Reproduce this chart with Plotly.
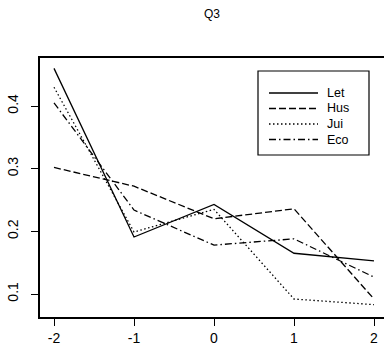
import plotly.graph_objects as go

# Response position on the x axis
positions = [-2, -1, 0, 1, 2]

# Proportions for each group
let_vals = [0.460, 0.191, 0.243, 0.165, 0.153]
hus_vals = [0.302, 0.272, 0.220, 0.236, 0.092]
jui_vals = [0.430, 0.199, 0.235, 0.092, 0.083]
eco_vals = [0.405, 0.234, 0.178, 0.188, 0.127]

series_names = ["Let", "Hus", "Jui", "Eco"]
series_vals = [let_vals, hus_vals, jui_vals, eco_vals]
dashes = ["solid", "7px,3px", "1.5px,2.5px", "7px,3px,1.5px,3px"]

x_ticks = [-2, -1, 0, 1, 2]
y_ticks = [0.1, 0.2, 0.3, 0.4]

FONT = "Liberation Sans, Arial, sans-serif"

fig = go.Figure()
for name, vals, dash in zip(series_names, series_vals, dashes):
    fig.add_trace(go.Scatter(
        x=positions, y=vals, mode="lines", name=name,
        line=dict(color="black", width=1.3, dash=dash),
        showlegend=False,
    ))

# Hand-drawn legend box in the upper right of the plot area
W, H = 384, 351
ml, mr, mt, mb = 40, 0, 58, 34
pw, ph = W - ml - mr, H - mt - mb

def px_x(p):
    return (p - ml) / pw

def px_y(p):
    return 1 - (p - mt) / ph

shapes = [dict(type="rect", xref="paper", yref="paper",
               x0=px_x(258), x1=px_x(369), y0=px_y(155), y1=px_y(71),
               line=dict(color="black", width=1.2), fillcolor="white")]
annotations = []
for i, (name, dash) in enumerate(zip(series_names, dashes)):
    yy = 93 + i * 15.5
    shapes.append(dict(type="line", xref="paper", yref="paper",
                       x0=px_x(269), x1=px_x(318), y0=px_y(yy), y1=px_y(yy),
                       line=dict(color="black", width=1.3, dash=dash)))
    annotations.append(dict(xref="paper", yref="paper", x=px_x(325), y=px_y(yy),
                            text=name, showarrow=False, xanchor="left",
                            yanchor="middle",
                            font=dict(family=FONT, size=12.5, color="black")))

fig.update_layout(
    width=W, height=H,
    margin=dict(l=ml, r=mr, t=mt, b=mb),
    paper_bgcolor="white", plot_bgcolor="white",
    title=dict(text="Q3", x=212 / W, xanchor="center", y=1 - 14 / H,
               yanchor="middle", font=dict(family=FONT, size=12, color="black")),
    shapes=shapes, annotations=annotations,
    font=dict(family=FONT, color="black"),
)
fig.update_xaxes(
    range=[-2.175, 2.125], tickvals=x_ticks, ticktext=[str(v) for v in x_ticks],
    ticks="outside", ticklen=7, tickwidth=1.2, tickcolor="black",
    showline=True, linecolor="black", linewidth=1.5, mirror=True,
    showgrid=False, zeroline=False, tickfont=dict(family=FONT, size=14),
    ticklabelstandoff=0,
)
fig.update_yaxes(
    range=[0.0633, 0.4766], tickvals=y_ticks, ticktext=[str(v) for v in y_ticks],
    ticks="outside", ticklen=7, tickwidth=1.2, tickcolor="black",
    showline=True, linecolor="black", linewidth=1.5,
    showgrid=False, zeroline=False, tickangle=-90,
    tickfont=dict(family=FONT, size=14), ticklabelstandoff=8,
)

fig.write_html("out.html")
